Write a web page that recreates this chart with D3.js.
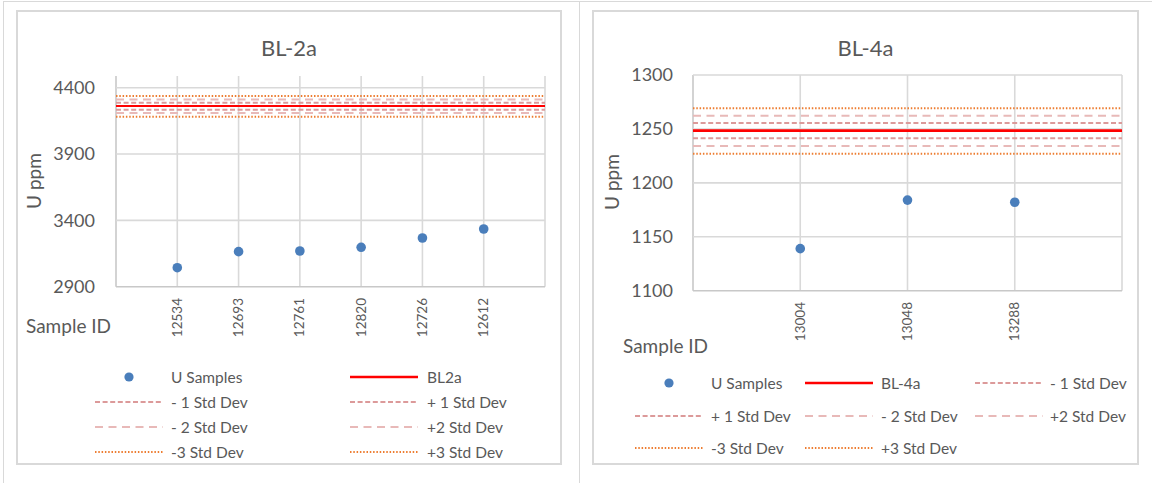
<!DOCTYPE html>
<html>
<head>
<meta charset="utf-8">
<script src="https://cdn.jsdelivr.net/npm/d3@7/dist/d3.min.js"></script>
<style>
  html, body { margin: 0; padding: 0; background: #ffffff; }
  svg { display: block; }
  text { font-family: Lato, "Open Sans", "Noto Sans", sans-serif; fill: #595959; }
</style>
</head>
<body>
<svg id="chart" width="1155" height="483"></svg>
<script>
// ---- BL-2a reference material ----
const bl2aSampleIds = ["12534", "12693", "12761", "12820", "12726", "12612"];
const bl2aU = [3043, 3164, 3169, 3197, 3267, 3335];
const bl2aYTicks = [2900, 3400, 3900, 4400];
// certified value and its ±1/2/3 standard deviation bands
const bl2aMean = 4261;
const bl2aMinus1 = 4234, bl2aPlus1 = 4287;
const bl2aMinus2 = 4209, bl2aPlus2 = 4311;
const bl2aMinus3 = 4181, bl2aPlus3 = 4337;

// ---- BL-4a reference material ----
const bl4aSampleIds = ["13004", "13048", "13288"];
const bl4aU = [1139, 1184, 1182];
const bl4aYTicks = [1100, 1150, 1200, 1250, 1300];
const bl4aMean = 1248.4;
const bl4aMinus1 = 1241.3, bl4aPlus1 = 1255.5;
const bl4aMinus2 = 1234.2, bl4aPlus2 = 1262.3;
const bl4aMinus3 = 1227.0, bl4aPlus3 = 1269.1;

// ---- line styles shared by both panels ----
const styles = {
  samples: { color: "#4A7EBB" },
  mean:    { color: "#FF0000", dash: null },
  sd1:     { color: "#DC9A9A", dash: "5,2.6", width: 2 },
  sd2:     { color: "#E8B9B8", dash: "8,5.5", width: 2 },
  sd3:     { color: "#ED7D31", dash: "1.5,1.8", width: 2 }
};

const svg = d3.select("#chart");
const grid = "#D9D9D9";

// outer frame of the page area
svg.append("line").attr("x1", 3).attr("x2", 1152).attr("y1", 1.5).attr("y2", 1.5)
  .attr("stroke", grid).attr("stroke-width", 1);
svg.append("line").attr("x1", 3.5).attr("x2", 3.5).attr("y1", 1).attr("y2", 483)
  .attr("stroke", grid).attr("stroke-width", 1);
svg.append("line").attr("x1", 579.5).attr("x2", 579.5).attr("y1", 1).attr("y2", 483)
  .attr("stroke", grid).attr("stroke-width", 1);

function drawPanel(cfg) {
  const g = svg.append("g");

  // chart area border
  g.append("rect")
    .attr("x", cfg.box[0]).attr("y", cfg.box[1])
    .attr("width", cfg.box[2]).attr("height", cfg.box[3])
    .attr("fill", "#fff").attr("stroke", grid).attr("stroke-width", 2);

  const x = d3.scaleLinear().domain([0, cfg.ids.length + 1]).range([cfg.plot.left, cfg.plot.right]);
  const y = d3.scaleLinear().domain(cfg.yDomain).range([cfg.plot.bottom, cfg.plot.top]);

  // title
  g.append("text")
    .attr("x", cfg.titlePos[0]).attr("y", cfg.titlePos[1])
    .attr("text-anchor", "middle")
    .style("font-size", "22px")
    .text(cfg.title);

  // vertical gridlines at every integer position
  const vIdx = d3.range(0, cfg.ids.length + 2);
  g.append("g").selectAll("line").data(vIdx).join("line")
    .attr("x1", d => x(d)).attr("x2", d => x(d))
    .attr("y1", cfg.plot.top).attr("y2", cfg.plot.bottom)
    .attr("stroke", (d, i) => i === 0 ? "#C8C8C8" : grid)
    .attr("stroke-width", 1.6);

  // horizontal gridlines
  g.append("g").selectAll("line").data(cfg.yTicks).join("line")
    .attr("x1", cfg.plot.left).attr("x2", cfg.plot.right)
    .attr("y1", d => y(d)).attr("y2", d => y(d))
    .attr("stroke", (d, i) => i === 0 ? "#C8C8C8" : grid)
    .attr("stroke-width", 1.6);

  // y axis tick labels
  const yAxis = d3.axisLeft(y).tickValues(cfg.yTicks).tickSize(0).tickPadding(0).tickFormat(d3.format("d"));
  const ya = g.append("g")
    .attr("transform", `translate(${cfg.tickRight},0)`)
    .call(yAxis);
  ya.select(".domain").remove();
  ya.selectAll("text").style("font-size", "18px").attr("fill", "#595959")
    .style("font-family", "Lato, 'Open Sans', sans-serif");

  // x axis category labels, rotated
  const xa = g.append("g").attr("transform", `translate(0,${cfg.catTop})`);
  xa.selectAll("text").data(cfg.ids).join("text")
    .attr("transform", (d, i) => `translate(${x(i + 1) + 4.5},0) rotate(-90)`)
    .attr("text-anchor", "end")
    .style("font-size", "13.5px")
    .text(d => d);

  // axis titles
  g.append("text")
    .attr("transform", `translate(${cfg.yTitlePos[0]},${cfg.yTitlePos[1]}) rotate(-90)`)
    .attr("text-anchor", "middle")
    .attr("dominant-baseline", "central")
    .style("font-size", "19px")
    .text("U ppm");
  g.append("text")
    .attr("x", cfg.xTitlePos[0]).attr("y", cfg.xTitlePos[1])
    .attr("dominant-baseline", "central")
    .style("font-size", "19px")
    .text("Sample ID");

  // reference lines
  const refs = cfg.lines;
  g.append("g").selectAll("line").data(refs).join("line")
    .attr("x1", cfg.plot.left).attr("x2", cfg.plot.right)
    .attr("y1", d => y(d.value)).attr("y2", d => y(d.value))
    .attr("stroke", d => d.style.color)
    .attr("stroke-width", d => d.style === styles.mean ? cfg.meanWidth : d.style.width)
    .attr("stroke-dasharray", d => d.style.dash);

  // sample points
  g.append("g").selectAll("circle").data(cfg.values).join("circle")
    .attr("cx", (d, i) => x(i + 1)).attr("cy", d => y(d))
    .attr("r", 4.8)
    .attr("fill", styles.samples.color);

  // legend
  const leg = g.append("g");
  cfg.legend.forEach(item => {
    const lg = leg.append("g");
    if (item.style === styles.samples) {
      lg.append("circle").attr("cx", item.marker).attr("cy", item.y).attr("r", 4.6)
        .attr("fill", styles.samples.color);
    } else {
      lg.append("line")
        .attr("x1", item.line[0]).attr("x2", item.line[1])
        .attr("y1", item.y).attr("y2", item.y)
        .attr("stroke", item.style.color)
        .attr("stroke-width", item.style === styles.mean ? 2.4 : item.style.width)
        .attr("stroke-dasharray", item.style.dash);
    }
    lg.append("text")
      .attr("x", item.textX).attr("y", item.y)
      .attr("dominant-baseline", "central")
      .style("font-size", "15.5px")
      .text(item.label);
  });
}

// BL-2a panel
drawPanel({
  title: "BL-2a",
  box: [17, 11, 544, 453],
  plot: { left: 116, right: 545, top: 76, bottom: 286.7 },
  yDomain: [2900, 4488],
  yTicks: bl2aYTicks,
  ids: bl2aSampleIds,
  values: bl2aU,
  tickRight: 95,
  catTop: 298,
  titlePos: [289, 56],
  yTitlePos: [33, 181],
  xTitlePos: [26, 325],
  meanWidth: 2,
  lines: [
    { value: bl2aPlus3, style: styles.sd3 },
    { value: bl2aMinus3, style: styles.sd3 },
    { value: bl2aPlus2, style: styles.sd2 },
    { value: bl2aMinus2, style: styles.sd2 },
    { value: bl2aPlus1, style: styles.sd1 },
    { value: bl2aMinus1, style: styles.sd1 },
    { value: bl2aMean, style: styles.mean }
  ],
  legend: [
    { label: "U Samples",   style: styles.samples, marker: 129, textX: 171, y: 377 },
    { label: "BL2a",        style: styles.mean, line: [350, 418], textX: 427, y: 377 },
    { label: "- 1 Std Dev", style: styles.sd1, line: [95, 163], textX: 171, y: 402 },
    { label: "+ 1 Std Dev", style: styles.sd1, line: [350, 418], textX: 427, y: 402 },
    { label: "- 2 Std Dev", style: styles.sd2, line: [95, 163], textX: 171, y: 427 },
    { label: "+2 Std Dev",  style: styles.sd2, line: [350, 418], textX: 427, y: 427 },
    { label: "-3 Std Dev",  style: styles.sd3, line: [95, 163], textX: 171, y: 452 },
    { label: "+3 Std Dev",  style: styles.sd3, line: [350, 418], textX: 427, y: 452 }
  ]
});

// BL-4a panel
drawPanel({
  title: "BL-4a",
  box: [593, 11, 545, 453],
  plot: { left: 693, right: 1122, top: 75, bottom: 290.7 },
  yDomain: [1100, 1300],
  yTicks: bl4aYTicks,
  ids: bl4aSampleIds,
  values: bl4aU,
  tickRight: 673,
  catTop: 302,
  titlePos: [865.5, 56],
  yTitlePos: [611, 182],
  xTitlePos: [623, 345],
  meanWidth: 2.8,
  lines: [
    { value: bl4aPlus3, style: styles.sd3 },
    { value: bl4aMinus3, style: styles.sd3 },
    { value: bl4aPlus2, style: styles.sd2 },
    { value: bl4aMinus2, style: styles.sd2 },
    { value: bl4aPlus1, style: styles.sd1 },
    { value: bl4aMinus1, style: styles.sd1 },
    { value: bl4aMean, style: styles.mean }
  ],
  legend: [
    { label: "U Samples",   style: styles.samples, marker: 669, textX: 711, y: 383 },
    { label: "BL-4a",       style: styles.mean, line: [805, 873], textX: 881, y: 383 },
    { label: "- 1 Std Dev", style: styles.sd1, line: [975, 1043], textX: 1050, y: 383 },
    { label: "+ 1 Std Dev", style: styles.sd1, line: [635, 703], textX: 711, y: 416 },
    { label: "- 2 Std Dev", style: styles.sd2, line: [805, 873], textX: 881, y: 416 },
    { label: "+2 Std Dev",  style: styles.sd2, line: [975, 1043], textX: 1050, y: 416 },
    { label: "-3 Std Dev",  style: styles.sd3, line: [635, 703], textX: 711, y: 448 },
    { label: "+3 Std Dev",  style: styles.sd3, line: [805, 873], textX: 881, y: 448 }
  ]
});
</script>
</body>
</html>
